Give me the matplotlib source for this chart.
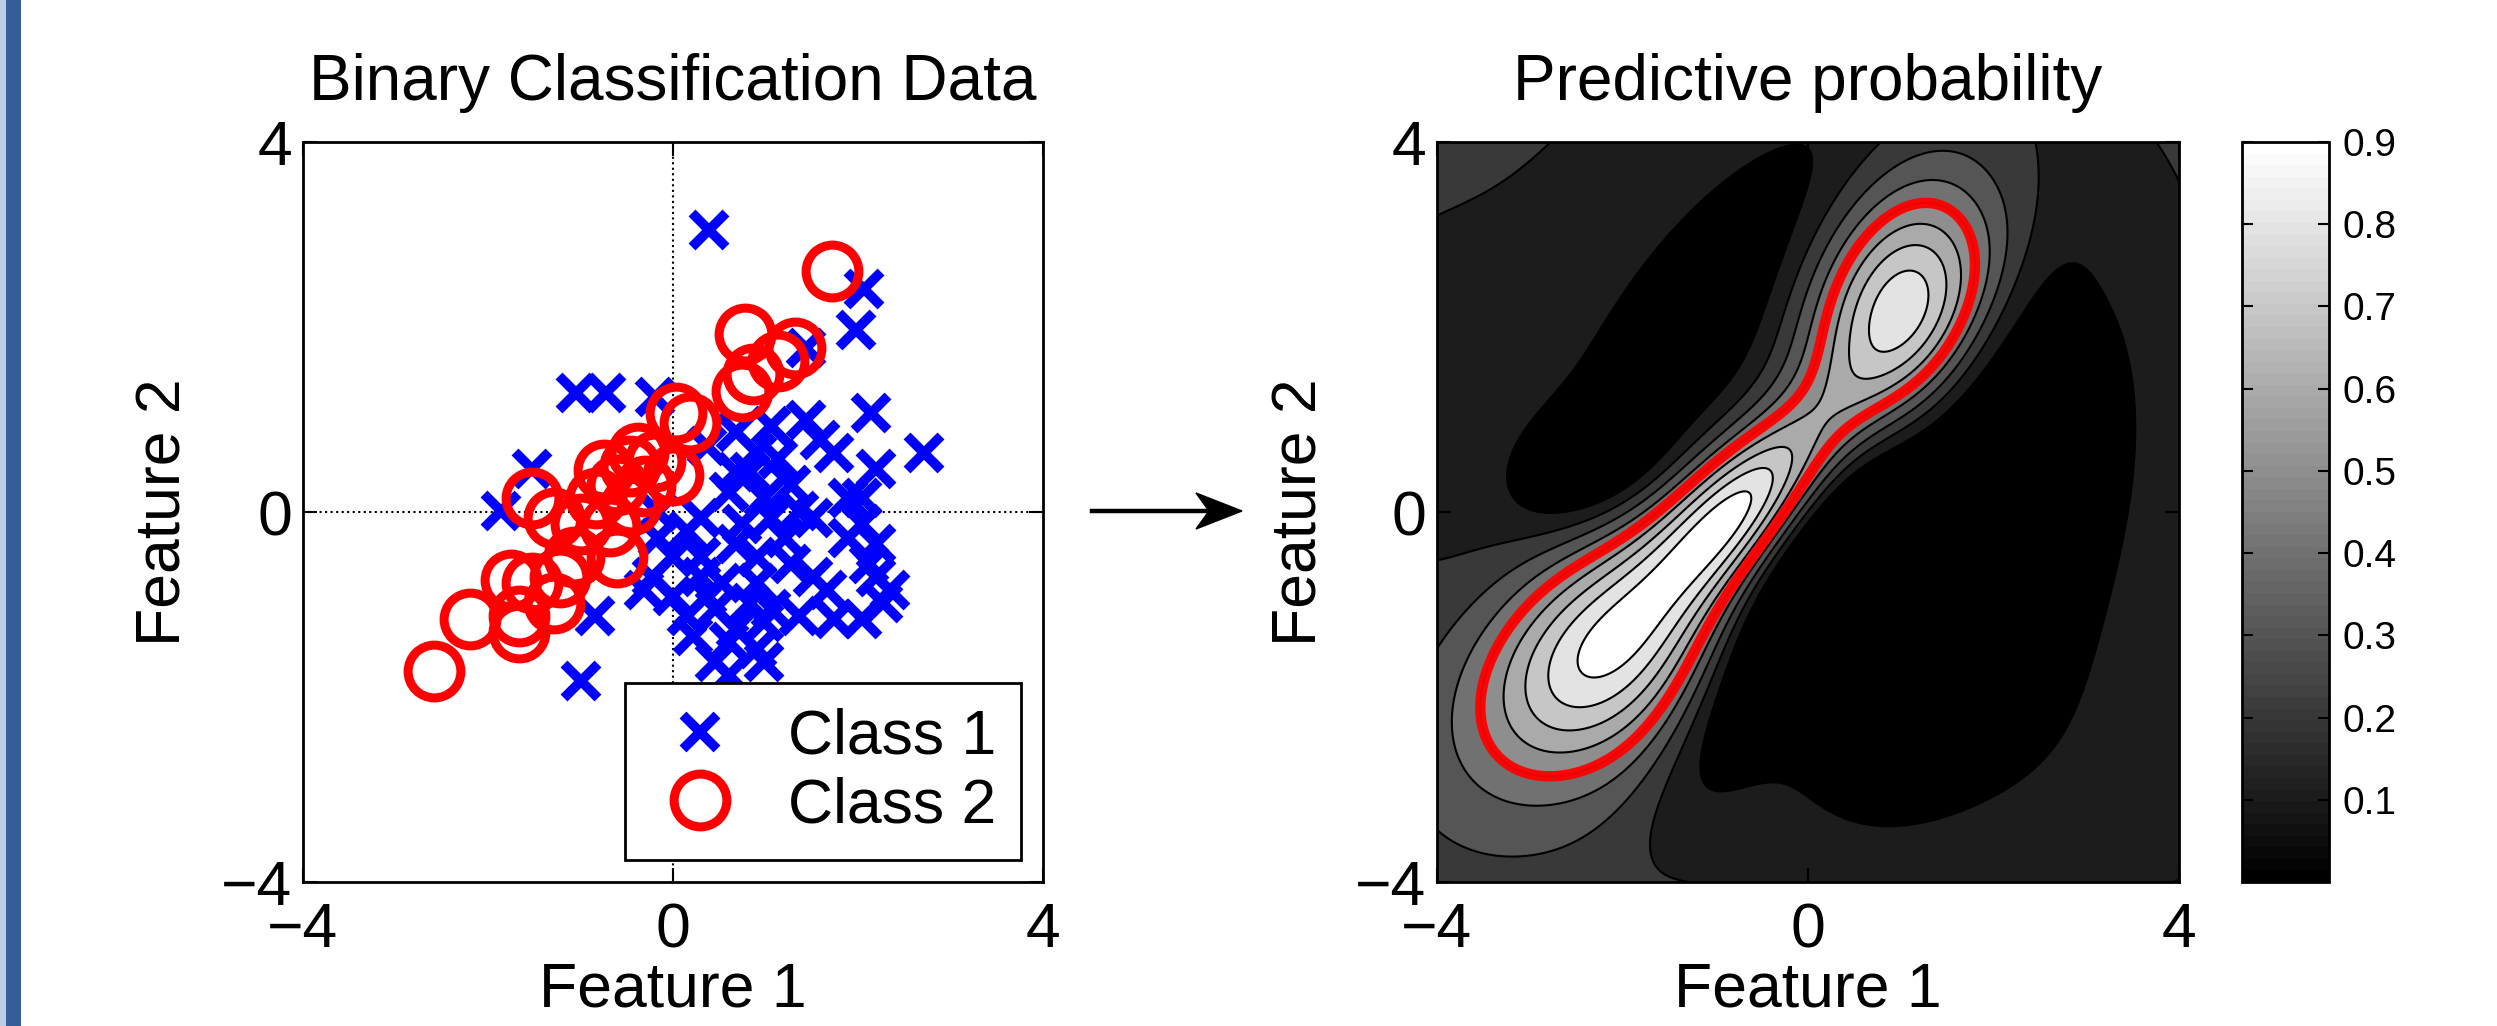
import numpy as np
import matplotlib
matplotlib.use('Agg')
import matplotlib.pyplot as plt
from matplotlib.patches import Rectangle, Polygon
from matplotlib.lines import Line2D
from matplotlib.colors import ListedColormap, Normalize
from matplotlib.cm import ScalarMappable

plt.rcParams['font.family'] = ['Liberation Sans', 'DejaVu Sans']

# Class 1 (blue crosses)
class1_x = [0.39, 2.07, 1.98, 1.44, -1.05, -0.72, -0.19, 2.14, 2.71, 2.19, 1.44, 1.59,
            1.74, 1.06, 0.68, 0.91, -1.52, -1.86, 0.68, 0.60, 0.98, 1.06, 1.36, 1.51,
            0.75, 1.21, 1.89, 2.04, 2.19, 1.89, 0.30, 0.15, -0.16, 0.00, 0.30, 0.91,
            1.28, 0.30, -0.23, -0.31, 0.00, 0.37, 0.91, 1.36, 1.74, 2.04, 2.27, 2.35,
            2.19, -0.84, 0.15, 0.45, 0.83, 0.22, 0.68, 0.98, 0.60, 0.91, 0.45, 0.60,
            0.98, -0.99, 0.83, 1.13, 1.28, 0.68, 1.51, 1.66, 0.53, 1.06, -0.16, 0.37,
            2.04, 2.12]
class1_y = [3.05, 2.41, 1.97, 1.77, 1.29, 1.29, 1.24, 1.07, 0.64, 0.47, 1.00, 0.78,
            0.64, 0.93, 0.86, 0.64, 0.47, 0.01, 0.43, 0.22, 0.15, -0.06, 0.01, -0.06,
            -0.13, -0.28, 0.15, -0.13, -0.35, -0.28, -0.06, -0.20, -0.28, -0.49, -0.49, -0.49,
            -0.56, -0.70, -0.70, -0.84, -0.91, -0.91, -0.77, -1.12, -1.16, -1.16, -0.98, -0.84,
            -0.70, -1.12, -1.12, -1.05, -0.98, -1.34, -1.27, -1.19, -1.41, -1.48, -1.62, -1.76,
            -1.62, -1.83, 0.43, 0.57, 0.29, -0.35, -0.70, -0.84, -0.77, -1.05, 0.00, 0.71,
            0.15, -0.56]

# Class 2 (red circles)
class2_x = [1.72, 0.78, 1.32, 1.13, 0.87, 0.75, 0.03, 0.18, -0.38, -0.46, 0.00, -0.61,
            -0.30, -0.83, -0.45, -1.52, -1.29, -0.99, -0.68, -0.61, -1.07, -1.22, -1.52, -1.75,
            -1.29, -1.67, -2.20, -1.67, -2.58, -0.20, -0.75]
class2_y = [2.61, 1.92, 1.77, 1.63, 1.49, 1.31, 1.07, 0.96, 0.64, 0.50, 0.40, 0.29,
            0.28, 0.15, 0.08, 0.15, -0.06, -0.13, -0.15, -0.49, -0.49, -0.70, -0.77, -0.73,
            -0.98, -1.12, -1.16, -1.30, -1.72, 0.55, 0.45]

axis_ticks = [-4, 0, 4]
prob_levels = [0.1, 0.2, 0.3, 0.4, 0.5, 0.6, 0.7, 0.8, 0.9]
prob_max = 0.9

# predictive probability surface: a background level plus a few bumps
# (centre x, centre y, height, spread along / across the tilted axis, tilt in degrees)
base_prob = 0.26
bump_cx = [-1.1, -1.0, -4.3, 1.5, 3.6, -0.5, 0.5, 1.9, -2.3, -2.2, -0.7, 1.02]
bump_cy = [2.1, 2.3, 1.35, -0.3, -3.2, -1.5, 0.1, 1.5, 0.45, -1.5, 0.1, 2.12]
bump_amp = [-0.12, -0.146, -0.07, -0.38, -0.07, -0.25, -0.12, -0.10, -0.2, 0.70, 0.73, 0.85]
bump_su = [2.0, 2.8, 1.3, 2.4, 1.2, 1.3, 1.3, 1.0, 0.6, 1.15, 0.95, 1.05]
bump_sv = [0.5, 1.8, 0.9, 1.35, 1.2, 0.4, 0.35, 0.35, 0.4, 0.75, 0.42, 0.7]
bump_ang = [52, 52, 90, 70, 0, 62, 55, 60, 30, 45, 47, 70]


def prob_surface(xx, yy):
    p = np.full_like(xx, base_prob)
    for cx, cy, amp, su, sv, ang in zip(bump_cx, bump_cy, bump_amp, bump_su, bump_sv, bump_ang):
        t = np.deg2rad(ang)
        dx, dy = xx - cx, yy - cy
        u = dx * np.cos(t) + dy * np.sin(t)
        v = -dx * np.sin(t) + dy * np.cos(t)
        p += amp * np.exp(-0.5 * ((u / su) ** 2 + (v / sv) ** 2))
    return np.clip(p, 0, 0.95)


W, H = 2497, 1026
fig = plt.figure(figsize=(W / 100, H / 100), dpi=100)

# blue strip on the left edge
fig.add_artist(Rectangle((0, 0), 6 / W, 1, transform=fig.transFigure, color='#bccde8', lw=0))
fig.add_artist(Rectangle((6 / W, 0), 15 / W, 1, transform=fig.transFigure, color='#365c99', lw=0))

FS = 45


def style_axes(ax):
    ax.set_xlim(-4, 4)
    ax.set_ylim(-4, 4)
    ax.set_xticks(axis_ticks)
    ax.set_yticks(axis_ticks)
    ax.tick_params(direction='in', length=10, width=1.5, top=True, right=True, labelsize=FS)
    ax.tick_params(axis='x', pad=14)
    ax.tick_params(axis='y', pad=8)
    for s in ax.spines.values():
        s.set_linewidth(2)
    ax.set_xlabel('Feature 1', fontsize=FS)
    ax.set_ylabel('Feature 2', fontsize=FS)
    ax.xaxis.set_label_coords(0.5, -0.146)
    ax.xaxis.label.set_va('center')
    ax.yaxis.label.set_va('center')


# left panel: the data
ax1 = fig.add_axes([303 / W, 144 / H, 740 / W, 740 / H])
ax1.axhline(0, color='k', ls=':', lw=1.5, zorder=1)
ax1.axvline(0, color='k', ls=':', lw=1.5, zorder=1)
ax1.plot(class1_x, class1_y, 'x', color='#0000ff', ms=24, mew=7, label='Class 1', zorder=2)
ax1.plot(class2_x, class2_y, 'o', mfc='none', mec='#ff0000', ms=38, mew=6.5, label='Class 2', zorder=3)
style_axes(ax1)
ax1.yaxis.set_label_coords(-0.188, 0.5)
ax1.set_title('Binary Classification Data', fontsize=46, pad=30)
leg = ax1.legend(loc='lower right', fontsize=FS, frameon=True, fancybox=False, framealpha=1,
                 edgecolor='k', borderpad=0.4, labelspacing=0.15, handlelength=1.6,
                 handletextpad=0.6, borderaxespad=0.35)
leg.get_frame().set_linewidth(2)

# right panel: predictive probability
ax2 = fig.add_axes([1437 / W, 144 / H, 742 / W, 740 / H])
gx = np.linspace(-4, 4, 401)
gxx, gyy = np.meshgrid(gx, gx)
pp = prob_surface(gxx, gyy)
fill_levels = [-0.01] + prob_levels + [1.0]
fill_colors = [str(max(l, 0) / prob_max) for l in fill_levels[:-1]]
ax2.contourf(gxx, gyy, pp, levels=fill_levels, colors=fill_colors)
ax2.contour(gxx, gyy, pp, levels=prob_levels, colors='k', linewidths=1.5)
ax2.contour(gxx, gyy, pp, levels=[0.5], colors='#ff0000', linewidths=[7.5],
            linestyles='solid', alpha=0.95)
style_axes(ax2)
ax2.yaxis.set_label_coords(-0.185, 0.5)
ax2.set_title('Predictive probability', fontsize=46, pad=30)

# colorbar
cax = fig.add_axes([2242 / W, 144 / H, 87 / W, 740 / H])
cmap = ListedColormap(plt.cm.gray(np.linspace(0, 1, 64)))
cb = fig.colorbar(ScalarMappable(norm=Normalize(0, prob_max), cmap=cmap), cax=cax)
cb.set_ticks(prob_levels)
cb.set_ticklabels([f'{l:.1f}' for l in prob_levels])
cax.tick_params(direction='in', length=8, width=1.5, left=True, right=True, labelsize=28, pad=10)
cb.outline.set_linewidth(2)

# arrow between the panels
y_arrow = 1 - 511 / H
fig.add_artist(Line2D([1092 / W, 1215 / W], [y_arrow, y_arrow], color='k', lw=3.2,
                      transform=fig.transFigure))
head = [(1242, 511), (1196, 493), (1209, 511), (1196, 529)]
fig.add_artist(Polygon([(x / W, 1 - y / H) for x, y in head], closed=True, color='k',
                       transform=fig.transFigure))

fig.savefig('out.png', dpi=100)
